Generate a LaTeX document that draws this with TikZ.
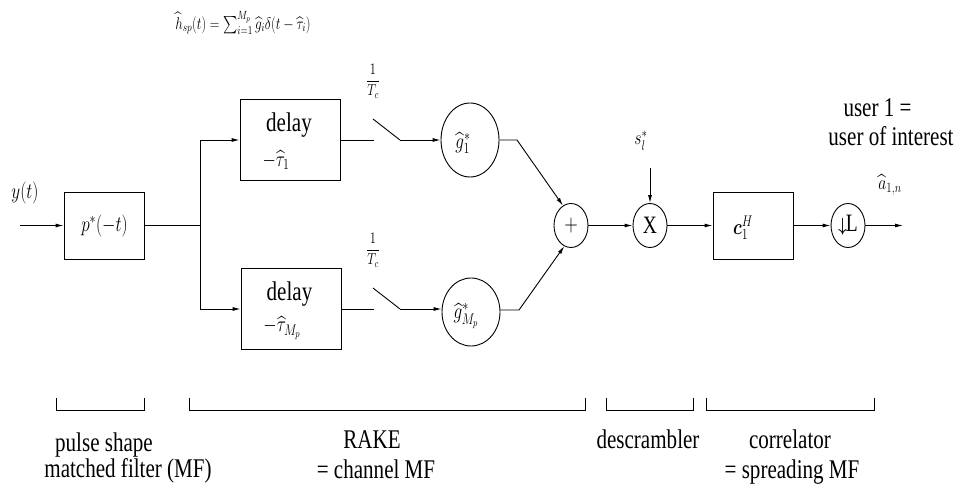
\RequirePackage{fix-cm}
\documentclass[tikz,border=0pt]{standalone}
\usepackage{amsmath,bm}
\usepackage{graphicx}
\usepackage[no-math]{fontspec}
\setmainfont{Liberation Serif}
\usetikzlibrary{shapes.geometric,arrows.meta}
% narrow lettering used throughout the block diagram
\newcommand\txt[2][27]{\scalebox{0.78}[1]{\fontsize{#1}{#1}\selectfont #2}}
\newcommand\mth[2]{\scalebox{0.78}[1]{\fontsize{#1}{#1}\selectfont$#2$}}
\begin{document}
\begin{tikzpicture}[x=1pt,y=-1pt,line width=0.9pt,
  >={Latex[length=8pt,width=4pt]},
  blk/.style={draw,rectangle,inner sep=0pt},
  oval/.style={draw,ellipse,inner sep=0pt},
  lbl/.style={inner sep=0pt,anchor=base},
  mlbl/.style={inner sep=0pt,anchor=center}]
\useasboundingbox (0,0) rectangle (955,489);

% overall channel estimate
\node[mlbl] (hsp) at (243,23) {\mth{17}{\widehat{h}_{sp}(t)=\sum_{i=1}^{M_p}\widehat{g}_i\delta(t-\widehat{\tau}_i)}};

% input and pulse shape matched filter
\coordinate (yin) at (20,225.5);
\node[mlbl] (ylab) at (25,193) {\mth{22}{y(t)}};
\node[blk,minimum width=80pt,minimum height=67pt] (pf) at (104,225.5) {};
\node[mlbl] (pflab) at (104.5,226) {\mth{22}{p^*(-t)}};

% RAKE fingers
\coordinate (br) at (200,225.5);
\node[blk,minimum width=100pt,minimum height=81pt] (d1) at (290,140) {};
\node[lbl] (d1a) at (289,132) {\txt{delay}};
\node[mlbl] (d1b) at (276,160) {\mth{22}{-\widehat{\tau}_1}};
\node[blk,minimum width=100pt,minimum height=81pt] (d2) at (291,309) {};
\node[lbl] (d2a) at (289.5,300) {\txt{delay}};
\node[mlbl] (d2b) at (282,328) {\mth{22}{-\widehat{\tau}_{M_p}}};

% sampling switches
\coordinate (s1a) at (374,140);
\coordinate (s1b) at (373,119);
\coordinate (s1c) at (400,140);
\node[mlbl] (f1) at (373,81) {\mth{16}{\dfrac{1}{T_c}}};
\coordinate (s2a) at (374,309);
\coordinate (s2b) at (373,288);
\coordinate (s2c) at (400,309);
\node[mlbl] (f2) at (373,250) {\mth{16}{\dfrac{1}{T_c}}};

% finger weights
\node[oval,minimum width=58pt,minimum height=74pt] (g1) at (470,140) {};
\node[mlbl] (g1l) at (463,143) {\mth{22}{\widehat{g}_1^*}};
\node[oval,minimum width=58pt,minimum height=68pt] (gM) at (471,312) {};
\node[mlbl] (gMl) at (466,316) {\mth{22}{\widehat{g}_{M_p}^*}};
\coordinate (k1) at (517,140);
\coordinate (k2) at (519,310);

% combiner, descrambler, correlator, decimator
\node[oval,minimum width=34pt,minimum height=44pt] (sum) at (571,225.5) {\mth{24}{+}};
\node[oval,minimum width=34pt,minimum height=44pt] (xm) at (650,225.5) {\txt[25]{X}};
\coordinate (sin) at (650,168);
\node[mlbl] (slab) at (641,141) {\mth{20}{s_l^*}};
\node[blk,minimum width=80pt,minimum height=67pt] (cb) at (753,225.5) {};
\node[mlbl] (clab) at (743,228) {\mth{22}{\bm{c}_1^H}};
\node[oval,minimum width=34pt,minimum height=44pt] (dl) at (848,225.5) {\mth{19}{\boldsymbol{\downarrow}}\kern-1pt\txt[25]{L}};
\coordinate (out) at (903,225.5);
\node[mlbl] (alab) at (890,185) {\mth{20}{\widehat{a}_{1,n}}};
\node[lbl] (u1) at (877.5,117) {\txt{user 1 =}};
\node[lbl] (u2) at (891,146) {\txt{user of interest}};

% signal flow
\draw[->] (yin) -- (pf.west);
\draw (pf.east) -- (br);
\draw[->] (br) |- (d1.west);
\draw[->] (br) |- (d2.west);
\draw (d1.east) -- (s1a);
\draw (s1b) -- (s1c);
\draw[->] (s1c) -- (g1.west);
\draw (d2.east |- s2a) -- (s2a);
\draw (s2b) -- (s2c);
\draw[->] (s2c) -- (gM.west |- s2c);
\draw[->] (g1.east) -- (k1) -- (sum.112);
\draw[->] (gM.east |- k2) -- (k2) -- (sum.252);
\draw[->] (sum) -- (xm);
\draw[->] (sin) -- (xm.north);
\draw[->] (xm) -- (cb.west);
\draw[->] (cb.east) -- (dl);
\draw[->] (dl) -- (out);

% section brackets and captions
\draw (56,398) -- (56,410) -- (144,410) -- (144,398);
\draw (189,398) -- (189,410) -- (585,410) -- (585,398);
\draw (606,398) -- (606,410) -- (693,410) -- (693,398);
\draw (706,398) -- (706,410) -- (874,410) -- (874,398);
\node[lbl] (c1a) at (104,451) {\txt{pulse shape}};
\node[lbl] (c1b) at (128,477) {\txt{matched filter (MF)}};
\node[lbl] (c2a) at (372,448) {\txt{RAKE}};
\node[lbl] (c2b) at (376,478) {\txt{= channel MF}};
\node[lbl] (c3a) at (648,448) {\txt{descrambler}};
\node[lbl] (c4a) at (790,448) {\txt{correlator}};
\node[lbl] (c4b) at (792,478) {\txt{= spreading MF}};
\end{tikzpicture}
\end{document}
